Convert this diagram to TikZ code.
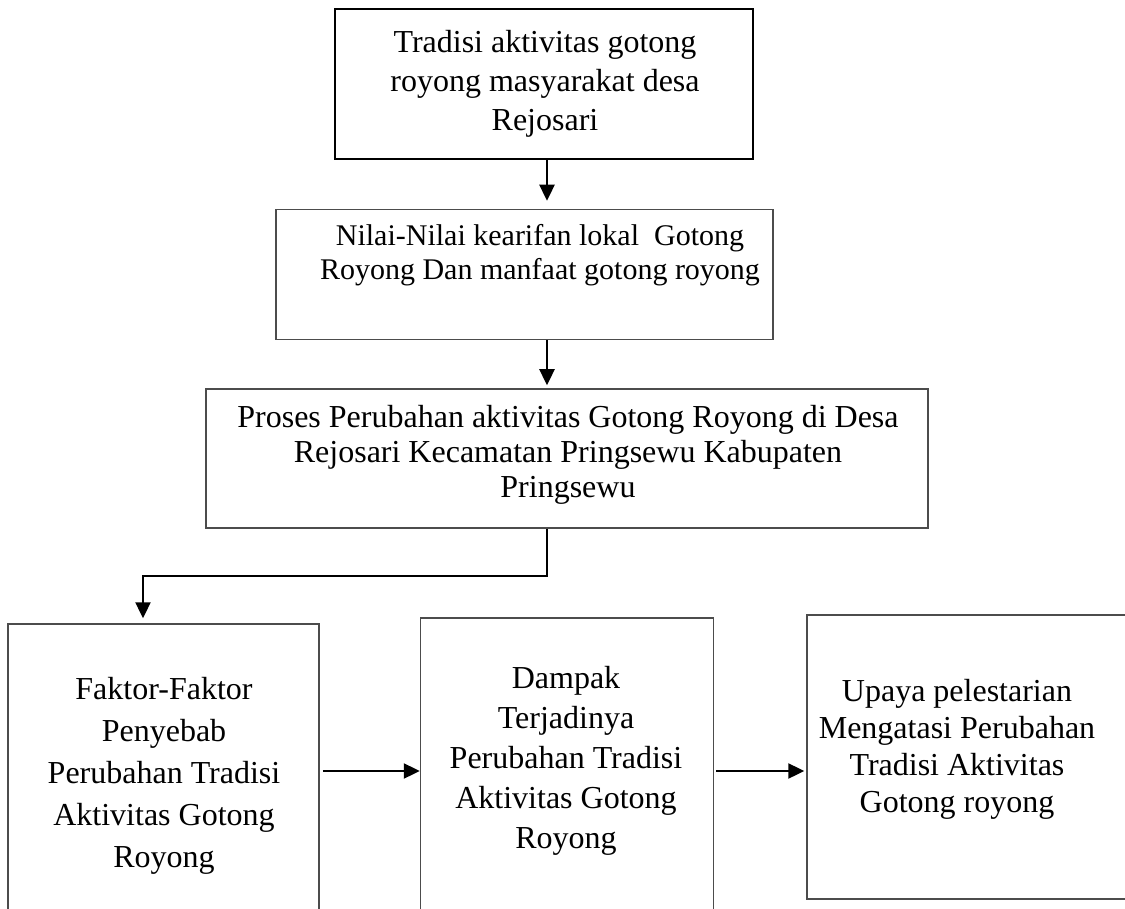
\documentclass[tikz,border=0pt]{standalone}
\usepackage{fontspec}
\setmainfont{Liberation Serif}
\usetikzlibrary{arrows.meta}

\begin{document}
\begin{tikzpicture}[
    x=0.5pt, y=-0.5pt,
    kotak/.style={draw=black!70, line width=0.75pt, rectangle, inner sep=0pt},
    teks/.style={align=center, inner sep=0pt},
    panah/.style={-{Triangle[length=8pt, width=7.5pt]}, line width=1.2pt}
]

    % ==========================================
    % FRAME
    % ==========================================
    \useasboundingbox (0,0) rectangle (1125,909);
    \clip (0,0) rectangle (1125,909);

    % ==========================================
    % COORDINATES
    % ==========================================
    \coordinate (poros) at (547,0);   % main vertical line
    \coordinate (belok) at (143,576); % elbow to bottom row
    \coordinate (jalur) at (0,771);   % bottom row arrows

    % ==========================================
    % BOXES
    % ==========================================
    \node[kotak, draw=black, line width=1pt, minimum width=209pt, minimum height=75pt] (b1) at (544,84) {};
    \node[kotak, minimum width=248.5pt, minimum height=65pt] (b2) at (524.5,274.5) {};
    \node[kotak, minimum width=361pt, minimum height=69.5pt] (b3) at (567,458.5) {};

    % bottom row
    \node[kotak, minimum width=155.5pt, minimum height=158pt] (b4) at (163.5,782) {};
    \node[kotak, minimum width=146.5pt, minimum height=161pt] (b5) at (567,779) {};
    \node[kotak, minimum width=166.5pt, minimum height=142pt] (b6) at (973.5,757) {};

    % ==========================================
    % TEXTS
    % ==========================================
    \node[teks, font=\fontsize{16}{19.5}\selectfont] (t1) at (545,84)
        {Tradisi aktivitas gotong\\ royong masyarakat desa\\ Rejosari};
    \node[teks, font=\fontsize{15}{17}\selectfont] (t2) at (540,255)
        {Nilai-Nilai kearifan lokal \ Gotong\\ Royong Dan manfaat gotong royong};
    \node[teks, font=\fontsize{16}{17.5}\selectfont] (t3) at (568,455)
        {Proses Perubahan aktivitas Gotong Royong di Desa\\ Rejosari Kecamatan Pringsewu Kabupaten\\ Pringsewu};

    \node[teks, font=\fontsize{16}{21}\selectfont] (t4) at (164,776)
        {Faktor-Faktor\\ Penyebab\\ Perubahan Tradisi\\ Aktivitas Gotong\\ Royong};
    \node[teks, font=\fontsize{16}{20}\selectfont] (t5) at (566,761)
        {Dampak\\ Terjadinya\\ Perubahan Tradisi\\ Aktivitas Gotong\\ Royong};
    \node[teks, font=\fontsize{16}{18.5}\selectfont] (t6) at (957,749)
        {Upaya pelestarian\\ Mengatasi Perubahan\\ Tradisi Aktivitas\\ Gotong royong};

    % ==========================================
    % ARROWS
    % ==========================================
    \draw[panah, shorten >=4pt] (b1.south -| poros) -- (b2.north -| poros);
    \draw[panah, shorten >=1.5pt] (b2.south -| poros) -- (b3.north -| poros);
    \draw[panah, shorten >=2.5pt] (b3.south -| poros) |- (belok) -- (b4.north -| belok);

    \draw[panah, shorten <=1.5pt] (b4.east |- jalur) -- (b5.west |- jalur);
    \draw[panah, shorten <=1pt, shorten >=1pt] (b5.east |- jalur) -- (b6.west |- jalur);

\end{tikzpicture}
\end{document}
